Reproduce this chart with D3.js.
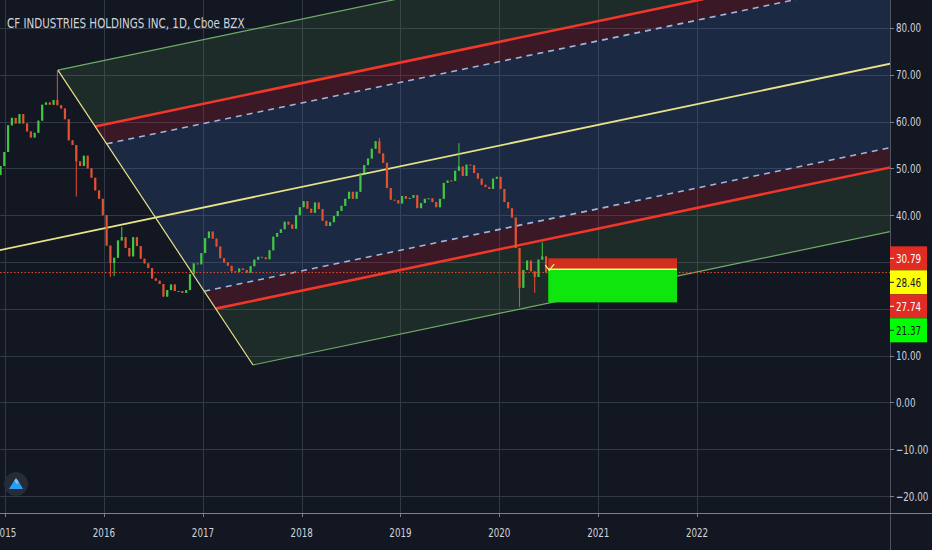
<!DOCTYPE html>
<html>
<head>
<meta charset="utf-8">
<script src="https://cdn.jsdelivr.net/npm/d3@7"></script>
<style>
  html, body { margin: 0; padding: 0; background: #131722; }
  svg { display: block; }
  text { font-family: "DejaVu Sans", sans-serif; }
</style>
</head>
<body>
<svg id="chart" width="932" height="550"></svg>
<script>
// values (2-week bars, open = previous close)
const title = "CF INDUSTRIES HOLDINGS INC, 1D, Cboe BZX";
const firstBar = "2014-12-15";
const barDays = 14;
const firstOpen = 48.6;
const closes = [
  50.5, 53.5, 59.2, 60.8, 59.6, 61.6, 59.6, 57.9, 56.6, 57.6,
  60.2, 63.6, 64.1, 63.6, 64.6, 63.5, 62.8, 60.5, 56.0, 55.0,
  51.5, 50.5, 52.7, 50.0, 48.0, 45.3, 43.5, 40.0, 33.5, 29.8,
  30.9, 34.6, 35.3, 33.0, 31.2, 35.3, 33.4, 30.7, 29.7, 28.7,
  26.5, 26.0, 25.3, 22.6, 24.0, 25.2, 23.8, 23.8, 23.4, 24.0,
  27.4, 29.7, 29.5, 31.9, 35.1, 36.5, 35.0, 33.3, 30.8, 29.9,
  29.2, 28.0, 27.9, 28.6, 28.3, 27.7, 29.1, 30.5, 31.1, 31.0,
  30.6, 32.5, 35.4, 36.2, 37.0, 38.6, 38.0, 37.1, 40.0, 41.7,
  43.0, 41.4, 40.5, 42.7, 41.3, 38.8, 37.7, 38.5, 39.8, 40.9,
  42.0, 43.5, 45.0, 43.5, 45.0, 49.0, 50.7, 52.1, 54.2, 55.8,
  53.2, 51.2, 45.8, 43.3, 43.2, 42.5, 44.1, 43.5, 43.7, 44.3,
  41.5, 42.6, 43.5, 43.6, 42.8, 41.7, 43.5, 46.9, 47.4, 47.3,
  49.5, 50.4, 48.4, 50.8, 50.7, 49.0, 47.8, 46.5, 46.0, 45.6,
  47.8, 48.2, 45.6, 42.8, 41.5, 39.5, 33.0, 24.5, 28.3, 30.3,
  28.0, 26.8, 30.5, 31.2, 27.74
];
// the long wicks that stand out in the picture
const wickBars  = [15,   20,   29,   30,   32,   100,  121,  137,  141,  143];
const wickHighs = [71.0, null, null, null, 37.5, 56.5, 55.4, null, null, 34.2];
const wickLows  = [null, 44.0, 26.8, 27.0, null, null, null, 20.4, 23.4, null];

const priceTicks = [80, 70, 60, 50, 40, 30, 20, 10, 0, -10, -20];
const yearTicks = [2015, 2016, 2017, 2018, 2019, 2020, 2021, 2022];

// pitchfork anchors: handle, upper, lower
const forkDates  = ["2014-12-01", "2015-07-15", "2017-07-05"];
const forkPrices = [32.4, 71.0, 8.0];
const forkLevels = [1, 0.618, 0.5];

// short position tool
const posDates = ["2020-06-30", "2021-10-19"];
const posStop = 30.79, posEntry = 28.46, posTarget = 21.37;
const lastPrice = 27.74;
const axisLabels = [30.79, 28.46, 27.74, 21.37];
const axisLabelKinds = ["loss", "entry", "loss", "profit"];

const W = 932, H = 550, plotW = 890, plotH = 513;
const bg = "#131722", gridCol = "#333846", textCol = "#d1d4dc";
const upCol = "#42c742", downCol = "#e4512f";
const narrow = 0.7; // the screenshot font is condensed
const labelStyle = {
  loss:   { bg: "#e02c22", fg: "#ffffff" },
  entry:  { bg: "#ffff00", fg: "#131722" },
  profit: { bg: "#00ff00", fg: "#131722" }
};

const parse = d3.timeParse("%Y-%m-%d");
const x = d3.scaleTime()
  .domain([parse("2014-12-13"), parse("2023-12-15")])
  .range([0, plotW]);
const y = d3.scaleLinear()
  .domain([-23.63, 85.98])
  .range([plotH, 0]);

const svg = d3.select("#chart");
svg.append("rect").attr("width", W).attr("height", H).attr("fill", bg);

svg.append("defs").append("clipPath").attr("id", "plot")
  .append("rect").attr("width", plotW).attr("height", plotH);

const plot = svg.append("g").attr("clip-path", "url(#plot)");

// grid
plot.append("g").selectAll("line").data(priceTicks).join("line")
  .attr("x1", 0).attr("x2", plotW)
  .attr("y1", d => Math.round(y(d)) + 0.5).attr("y2", d => Math.round(y(d)) + 0.5)
  .attr("stroke", gridCol);
plot.append("g").selectAll("line").data(yearTicks).join("line")
  .attr("y1", 0).attr("y2", plotH)
  .attr("x1", d => Math.round(x(new Date(d, 0, 1))) + 0.5)
  .attr("x2", d => Math.round(x(new Date(d, 0, 1))) + 0.5)
  .attr("stroke", gridCol);

// pitchfork geometry (pixel space, from scaled anchors)
const P = forkDates.map((d, i) => [x(parse(d)), y(forkPrices[i])]);
const mid = [(P[1][0] + P[2][0]) / 2, (P[1][1] + P[2][1]) / 2];
let dir = [mid[0] - P[0][0], mid[1] - P[0][1]];
const len = Math.hypot(dir[0], dir[1]);
dir = [dir[0] / len, dir[1] / len];
const far = 3000;
const onBase = t => [P[1][0] + t * (P[2][0] - P[1][0]), P[1][1] + t * (P[2][1] - P[1][1])];
const ext = p => [p[0] + dir[0] * far, p[1] + dir[1] * far];
const tOf = (lvl, side) => 0.5 + side * lvl / 2;

const bands = [
  { a: tOf(1, -1),     b: tOf(0.618, -1), fill: "rgba(90,170,80,0.15)" },
  { a: tOf(0.618, -1), b: tOf(0.5, -1),   fill: "rgba(200,30,50,0.22)" },
  { a: tOf(0.5, -1),   b: tOf(0.5, 1),    fill: "rgba(60,110,190,0.21)" },
  { a: tOf(0.5, 1),    b: tOf(0.618, 1),  fill: "rgba(200,30,50,0.22)" },
  { a: tOf(0.618, 1),  b: tOf(1, 1),      fill: "rgba(90,170,80,0.15)" }
];
plot.append("g").selectAll("path").data(bands).join("path")
  .attr("d", d => {
    const pa = onBase(d.a), pb = onBase(d.b);
    return "M" + [pa, pb, ext(pb), ext(pa)].map(p => p.join(",")).join("L") + "Z";
  })
  .attr("fill", d => d.fill);

const line = (p, q) => "M" + p.join(",") + "L" + q.join(",");
const forkG = plot.append("g").attr("fill", "none");
forkLevels.forEach(lvl => {
  [-1, 1].forEach(side => {
    const p = onBase(tOf(lvl, side));
    const path = forkG.append("path").attr("d", line(p, ext(p)));
    if (lvl === 1) path.attr("stroke", "#6fae6a").attr("stroke-width", 1.2);
    else if (lvl === 0.618) path.attr("stroke", "#f2362a").attr("stroke-width", 2.6);
    else path.attr("stroke", "#9fb6dc").attr("stroke-width", 1.6).attr("stroke-dasharray", "6,5");
  });
});
// median and base
forkG.append("path").attr("d", line(P[0], ext(P[0])))
  .attr("stroke", "#e6e288").attr("stroke-width", 1.8);
forkG.append("path").attr("d", line(P[1], P[2]))
  .attr("stroke", "#e6e288").attr("stroke-width", 1.2);

// candles
const bars = closes.map((c, i) => {
  const o = i === 0 ? firstOpen : closes[i - 1];
  let hi = Math.max(o, c), lo = Math.min(o, c);
  const k = wickBars.indexOf(i);
  if (k >= 0) {
    if (wickHighs[k] != null) hi = Math.max(hi, wickHighs[k]);
    if (wickLows[k] != null) lo = Math.min(lo, wickLows[k]);
  }
  return { date: d3.timeDay.offset(parse(firstBar), i * barDays), o, h: hi, l: lo, c };
});
const cg = plot.append("g");
cg.selectAll("line").data(bars).join("line")
  .attr("x1", d => x(d.date)).attr("x2", d => x(d.date))
  .attr("y1", d => y(d.h)).attr("y2", d => y(d.l))
  .attr("stroke", d => d.c >= d.o ? upCol : downCol).attr("stroke-width", 1);
cg.selectAll("rect").data(bars).join("rect")
  .attr("x", d => x(d.date) - 1.1).attr("width", 2.2)
  .attr("y", d => y(Math.max(d.o, d.c)))
  .attr("height", d => Math.max(1, Math.abs(y(d.o) - y(d.c))))
  .attr("fill", d => d.c >= d.o ? upCol : downCol);

// last price line
plot.append("line")
  .attr("x1", 0).attr("x2", plotW)
  .attr("y1", y(lastPrice)).attr("y2", y(lastPrice))
  .attr("stroke", "#e4512f").attr("stroke-width", 1).attr("stroke-dasharray", "1.5,2");

// position tool
const px0 = x(parse(posDates[0])), px1 = x(parse(posDates[1]));
plot.append("rect").attr("x", px0).attr("width", px1 - px0)
  .attr("y", y(posStop)).attr("height", y(posEntry) - y(posStop)).attr("fill", "#d22d1f");
plot.append("rect").attr("x", px0).attr("width", px1 - px0)
  .attr("y", y(posEntry)).attr("height", y(posTarget) - y(posEntry)).attr("fill", "#0ee60e");
plot.append("line").attr("x1", px0).attr("x2", px1)
  .attr("y1", y(posEntry)).attr("y2", y(posEntry))
  .attr("stroke", "#f4f46a").attr("stroke-width", 1.5);
plot.append("path")
  .attr("d", `M${px0 - 3},${y(posEntry) - 4}L${px0 + 1},${y(posEntry) + 1}L${px0 + 6},${y(posEntry) - 5}`)
  .attr("fill", "none").attr("stroke", "#f4f46a").attr("stroke-width", 1.2);

// logo
const logo = svg.append("g").attr("transform", "translate(16,484)");
logo.append("circle").attr("r", 12).attr("fill", "#262b38");
logo.append("path").attr("d", "M-7,5L-2,-3L1,1L3,-2L7,5Z").attr("fill", "#2a9df4");
logo.append("path").attr("d", "M-2,-3L0,-6L3,-2L1,1Z").attr("fill", "#6cc4ff");

// condensed text helper
const place = (sel, fx, fy) => sel.attr("transform", (d, i) => `translate(${fx(d, i)},${fy(d, i)}) scale(${narrow},1)`);

// title
svg.append("text").attr("transform", `translate(7,28) scale(${narrow},1)`)
  .attr("fill", textCol).attr("font-size", 14.8).text(title);

// axes frames
svg.append("line").attr("x1", plotW + 0.5).attr("x2", plotW + 0.5).attr("y1", 0).attr("y2", H)
  .attr("stroke", "#4f5360");
svg.append("line").attr("x1", 0).attr("x2", W).attr("y1", plotH + 0.5).attr("y2", plotH + 0.5)
  .attr("stroke", "#7c808b");

// stacked price labels on the axis (placed first so hidden ticks can be skipped)
const boxH = 24;
let prevBottom = -Infinity;
const placed = axisLabels.map(v => {
  let top = Math.max(y(v) - boxH / 2, prevBottom);
  prevBottom = top + boxH;
  return { v, top };
});
const hidden = d => placed.some(b => y(d) > b.top - 6 && y(d) < b.top + boxH + 6);

// price axis
const py = svg.append("g");
py.selectAll("line").data(priceTicks).join("line")
  .attr("x1", plotW).attr("x2", plotW + 4)
  .attr("y1", d => Math.round(y(d)) + 0.5).attr("y2", d => Math.round(y(d)) + 0.5)
  .attr("stroke", "#7c808b");
place(py.selectAll("text").data(priceTicks.filter(d => !hidden(d))).join("text"), () => plotW + 6, d => y(d) + 4.5)
  .attr("fill", textCol).attr("font-size", 12.5)
  .text(d => d3.format(".2f")(d).replace("-", "\u2212"));

// year axis
const yx = svg.append("g");
yx.selectAll("line").data(yearTicks).join("line")
  .attr("x1", d => Math.round(x(new Date(d, 0, 1))) + 0.5)
  .attr("x2", d => Math.round(x(new Date(d, 0, 1))) + 0.5)
  .attr("y1", plotH).attr("y2", plotH + 4).attr("stroke", "#7c808b");
place(yx.selectAll("text").data(yearTicks).join("text"), d => x(new Date(d, 0, 1)), () => 537)
  .attr("text-anchor", "middle").attr("fill", textCol).attr("font-size", 12.5)
  .text(d => d);

const lg = svg.append("g").selectAll("g").data(placed).join("g")
  .attr("transform", d => `translate(${plotW},${d.top})`);
lg.append("rect").attr("width", 37).attr("height", boxH)
  .attr("fill", (d, i) => labelStyle[axisLabelKinds[i]].bg);
lg.append("line").attr("x1", 0).attr("x2", 4)
  .attr("y1", boxH / 2).attr("y2", boxH / 2)
  .attr("stroke", (d, i) => labelStyle[axisLabelKinds[i]].fg);
place(lg.append("text"), () => 6, () => boxH / 2 + 4.5)
  .attr("font-size", 12.5)
  .attr("fill", (d, i) => labelStyle[axisLabelKinds[i]].fg)
  .text(d => d3.format(".2f")(d.v));
</script>
</body>
</html>
